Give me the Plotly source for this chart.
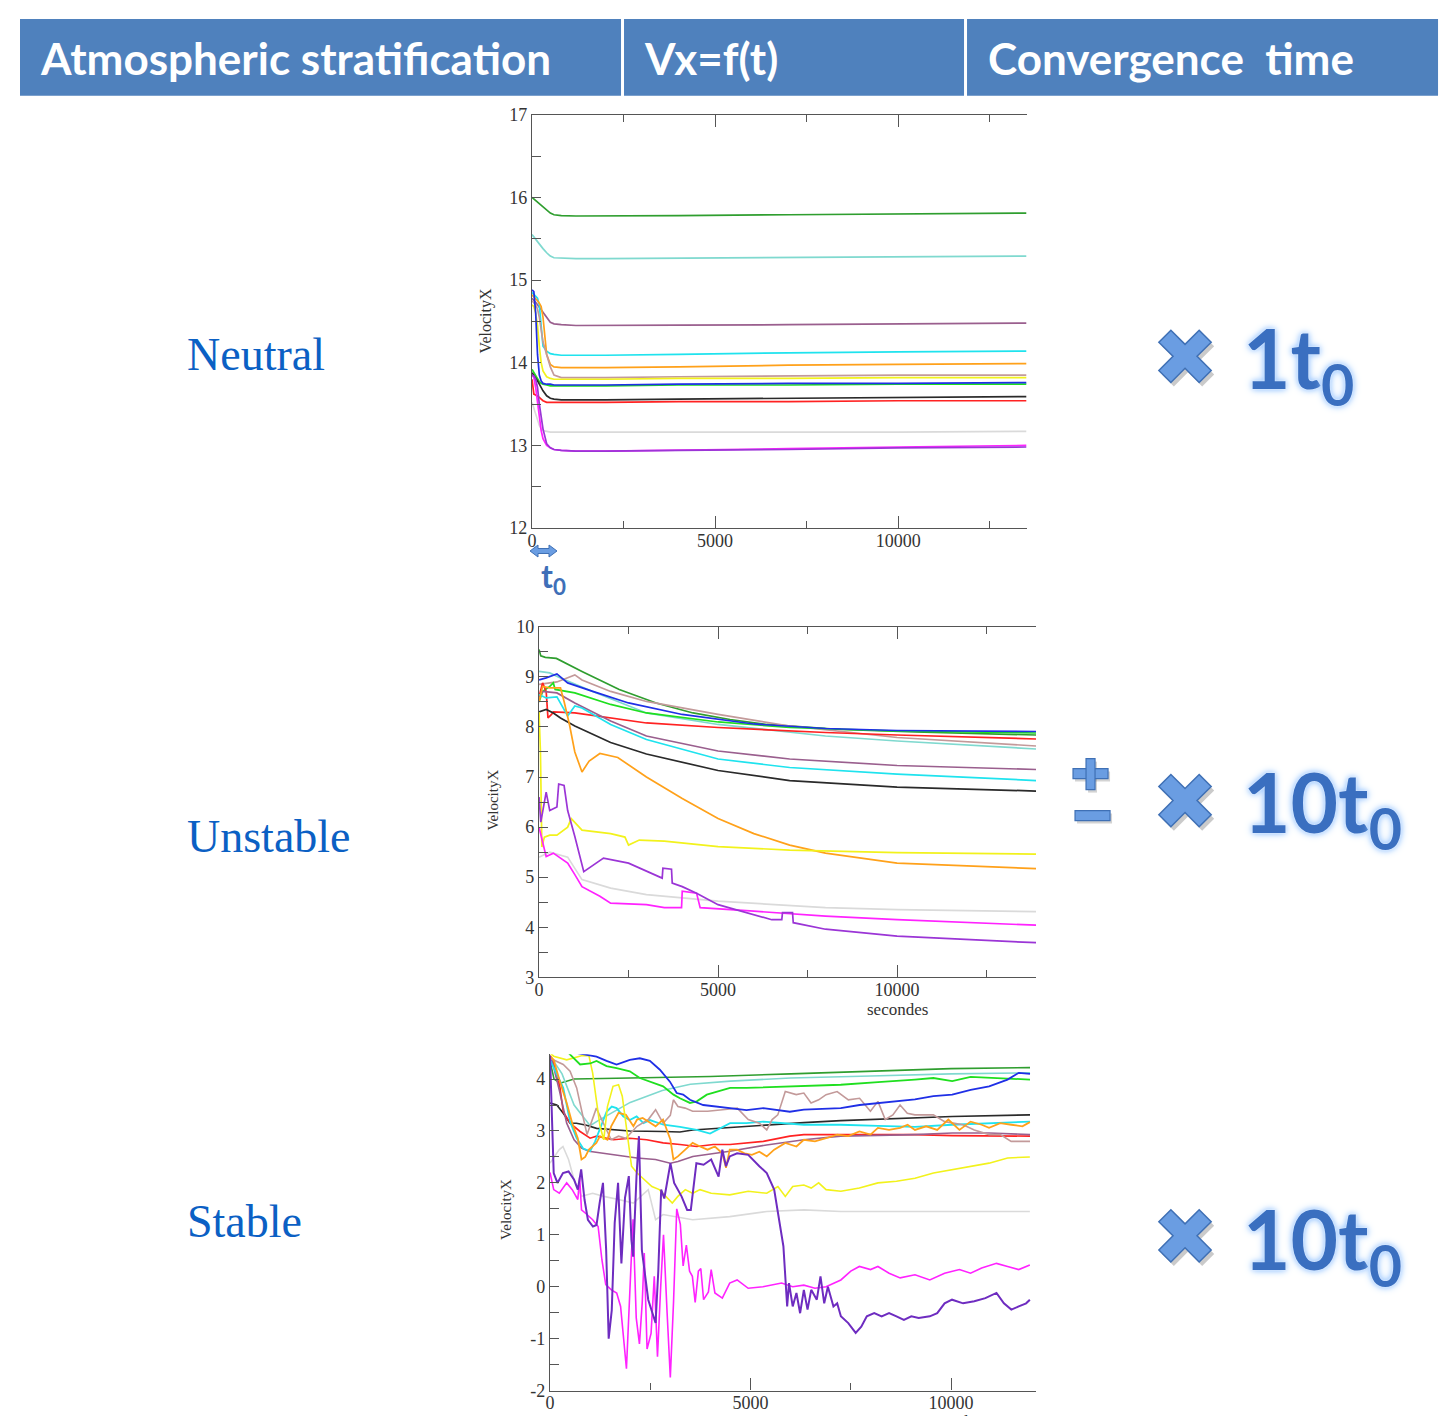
import math
import plotly.graph_objects as go

# ---------------- DATA ----------------
# Neutral stratification: shared time grid (s) and VelocityX values
NEU_T = [0, 50, 100, 150, 200, 250, 300, 400, 500, 600, 800, 1200, 2000, 4000, 7000, 10000, 13500]
NEU_GREEN4 = [16.0, 15.98, 15.96, 15.94, 15.92, 15.9, 15.88, 15.84, 15.81, 15.79, 15.78, 15.775, 15.775, 15.78, 15.79, 15.8, 15.81]
NEU_TURQ = [15.55, 15.52, 15.5, 15.47, 15.44, 15.41, 15.38, 15.33, 15.29, 15.27, 15.265, 15.26, 15.26, 15.265, 15.275, 15.285, 15.29]
NEU_MAROON = [14.78, 14.76, 14.73, 14.7, 14.67, 14.64, 14.6, 14.54, 14.49, 14.47, 14.46, 14.45, 14.45, 14.455, 14.46, 14.47, 14.48]
NEU_CYAN = [14.85, 14.83, 14.8, 14.78, 14.7, 14.4, 14.2, 14.14, 14.11, 14.1, 14.09, 14.09, 14.09, 14.1, 14.12, 14.13, 14.14]
NEU_ORANGE = [14.82, 14.8, 14.78, 14.75, 14.72, 14.68, 14.55, 14.1, 13.98, 13.95, 13.94, 13.94, 13.94, 13.95, 13.97, 13.98, 13.99]
NEU_BROWN = [14.75, 14.73, 14.7, 14.65, 14.55, 14.4, 14.25, 14.1, 13.95, 13.85, 13.82, 13.82, 13.82, 13.83, 13.84, 13.85, 13.85]
NEU_YELLOW = [14.7, 14.68, 14.6, 14.45, 14.2, 14.0, 13.9, 13.83, 13.81, 13.8, 13.8, 13.8, 13.8, 13.81, 13.81, 13.82, 13.82]
NEU_BLUE = [14.88, 14.86, 14.6, 14.1, 13.85, 13.78, 13.75, 13.74, 13.74, 13.73, 13.73, 13.73, 13.73, 13.74, 13.75, 13.75, 13.76]
NEU_GREEN = [13.92, 13.88, 13.84, 13.8, 13.77, 13.75, 13.74, 13.73, 13.72, 13.72, 13.72, 13.72, 13.72, 13.73, 13.73, 13.74, 13.74]
NEU_BLACK = [13.88, 13.85, 13.82, 13.78, 13.74, 13.7, 13.66, 13.6, 13.57, 13.56, 13.55, 13.55, 13.55, 13.56, 13.57, 13.58, 13.59]
NEU_RED = [13.8, 13.62, 13.61, 13.6, 13.58, 13.56, 13.54, 13.52, 13.52, 13.52, 13.52, 13.52, 13.52, 13.53, 13.53, 13.54, 13.54]
NEU_GREY = [13.52, 13.45, 13.38, 13.3, 13.24, 13.2, 13.18, 13.17, 13.16, 13.16, 13.16, 13.16, 13.16, 13.16, 13.16, 13.16, 13.17]
NEU_MAGENTA = [13.85, 13.82, 13.7, 13.5, 13.3, 13.18, 13.08, 13.0, 12.97, 12.95, 12.94, 12.93, 12.93, 12.94, 12.96, 12.98, 13.0]
NEU_VIOLET = [13.85, 13.84, 13.8, 13.7, 13.5, 13.35, 13.2, 13.02, 12.97, 12.95, 12.94, 12.93, 12.93, 12.94, 12.95, 12.97, 12.98]

# Unstable stratification: (time s, VelocityX) pairs per series
UNS_GREEN4 = [(0, 9.55), (50, 9.42), (175, 9.39), (485, 9.37), (1200, 9.11), (2240, 8.75), (3270, 8.48), (4300, 8.28), (5335, 8.15), (6370, 8.05), (8430, 7.95), (10500, 7.9), (13880, 7.84)]
UNS_BLUE = [(0, 8.94), (200, 8.98), (500, 9.06), (800, 8.88), (1500, 8.71), (2500, 8.48), (4000, 8.25), (6000, 8.06), (8000, 7.97), (10000, 7.93), (13880, 7.91)]
UNS_GREEN = [(0, 8.5), (100, 8.71), (300, 8.81), (400, 8.88), (450, 8.75), (1000, 8.68), (2000, 8.45), (3000, 8.28), (5000, 8.1), (7000, 7.99), (10000, 7.92), (13880, 7.88)]
UNS_BROWN = [(0, 8.85), (500, 8.9), (1000, 9.04), (1200, 8.94), (2000, 8.71), (3000, 8.51), (5000, 8.25), (7000, 8.02), (10000, 7.79), (13880, 7.62)]
UNS_RED = [(0, 8.6), (100, 8.88), (200, 8.71), (250, 8.18), (350, 8.25), (400, 8.3), (1000, 8.28), (2000, 8.18), (3000, 8.08), (5000, 7.99), (8000, 7.89), (10000, 7.84), (13880, 7.76)]
UNS_TURQ = [(0, 9.11), (300, 9.08), (600, 8.98), (1500, 8.71), (3000, 8.28), (5000, 8.05), (8000, 7.82), (10000, 7.72), (13880, 7.56)]
UNS_CYAN = [(0, 8.65), (200, 8.58), (500, 8.6), (800, 8.22), (1000, 8.42), (1200, 8.38), (2000, 8.05), (3000, 7.75), (5000, 7.36), (7000, 7.19), (10000, 7.06), (13880, 6.93)]
UNS_MAROON = [(0, 8.6), (100, 8.71), (500, 8.68), (1000, 8.48), (2000, 8.12), (3000, 7.82), (5000, 7.52), (7000, 7.36), (10000, 7.23), (13880, 7.15)]
UNS_BLACK = [(0, 8.3), (100, 8.32), (200, 8.35), (400, 8.28), (600, 8.18), (1000, 8.02), (2000, 7.69), (3000, 7.46), (5000, 7.13), (7000, 6.93), (10000, 6.8), (13880, 6.72)]
UNS_ORANGE = [(0, 8.5), (100, 8.81), (300, 8.78), (600, 8.78), (700, 8.51), (850, 8.05), (1000, 7.5), (1200, 7.1), (1400, 7.32), (1700, 7.47), (2200, 7.39), (3000, 7.0), (4000, 6.57), (5000, 6.17), (6000, 5.87), (7000, 5.64), (8000, 5.48), (10000, 5.28), (13880, 5.17)]
UNS_YELLOW = [(0, 8.3), (40, 7.5), (80, 5.6), (150, 5.8), (300, 5.84), (500, 5.84), (800, 6.0), (900, 6.17), (1200, 5.94), (2000, 5.87), (2400, 5.8), (2500, 5.64), (2800, 5.74), (3500, 5.72), (5000, 5.61), (7000, 5.54), (10000, 5.49), (13880, 5.46)]
UNS_VIOLET = [(0, 6.6), (50, 6.1), (200, 6.7), (300, 6.33), (500, 6.4), (550, 6.86), (700, 6.83), (800, 6.33), (1000, 5.81), (1250, 5.11), (1800, 5.38), (2500, 5.28), (3440, 4.98), (3460, 5.18), (3700, 5.16), (3720, 4.88), (4000, 4.81), (4400, 4.68), (5000, 4.45), (6500, 4.15), (6780, 4.15), (6800, 4.29), (7080, 4.29), (7100, 4.09), (8000, 3.96), (10000, 3.82), (13880, 3.69)]
UNS_MAGENTA = [(0, 6.0), (100, 5.67), (200, 5.41), (400, 5.48), (600, 5.38), (800, 5.28), (1000, 5.05), (1200, 4.81), (1700, 4.62), (2000, 4.48), (3000, 4.45), (3500, 4.39), (3980, 4.39), (4000, 4.72), (4400, 4.68), (4500, 4.39), (6000, 4.32), (8000, 4.22), (10000, 4.15), (13880, 4.04)]
UNS_GREY = [(0, 5.4), (300, 5.5), (800, 5.4), (1200, 4.95), (2000, 4.78), (3000, 4.65), (5000, 4.52), (8000, 4.39), (10000, 4.35), (13880, 4.31)]

# Stable stratification: (time s, VelocityX) pairs per series
ST_GREEN4 = [(0, 4.35), (100, 4.0), (250, 3.92), (600, 4.0), (2000, 4.02), (4000, 4.05), (6000, 4.1), (8000, 4.15), (10000, 4.2), (11970, 4.22)]
ST_TURQ = [(0, 4.45), (300, 4.1), (600, 3.5), (1000, 3.1), (1200, 3.2), (2000, 3.55), (2800, 3.78), (3500, 3.9), (4500, 3.96), (6000, 4.02), (8000, 4.06), (10000, 4.1), (11970, 4.12)]
ST_CYAN = [(0, 4.37), (330, 3.83), (500, 3.18), (665, 2.86), (830, 2.66), (1000, 2.61), (1120, 2.79), (1250, 3.05), (1410, 3.37), (1540, 3.47), (1660, 3.44), (1830, 3.28), (1990, 3.21), (2160, 3.28), (2330, 3.15), (2490, 3.21), (2830, 3.12), (3240, 3.08), (3660, 3.02), (3990, 2.95), (4490, 3.15), (4900, 3.15), (5320, 3.18), (6330, 3.12), (7250, 3.12), (8180, 3.1), (9100, 3.08), (10030, 3.12), (10950, 3.15), (11970, 3.18)]
ST_GREEN = [(0, 4.6), (400, 4.55), (750, 4.28), (1000, 4.3), (1160, 4.35), (1410, 4.25), (1660, 4.21), (1990, 4.15), (2240, 4.02), (2580, 3.92), (2820, 3.86), (3080, 3.7), (3240, 3.63), (3490, 3.54), (3660, 3.57), (3910, 3.7), (4160, 3.76), (4490, 3.83), (4900, 3.83), (5320, 3.84), (5980, 3.86), (6330, 3.86), (7250, 3.89), (8180, 3.94), (8640, 3.96), (9100, 3.99), (9560, 4.02), (10030, 3.96), (10490, 4.04), (10950, 4.02), (11410, 4.0), (11970, 3.99)]
ST_BLUE = [(0, 4.6), (900, 4.47), (1160, 4.43), (1410, 4.35), (1660, 4.28), (1990, 4.37), (2240, 4.4), (2490, 4.35), (2740, 4.18), (2990, 3.95), (3160, 3.73), (3320, 3.7), (3490, 3.6), (3820, 3.5), (4160, 3.47), (4490, 3.44), (4900, 3.4), (5320, 3.44), (5650, 3.4), (5980, 3.37), (6330, 3.41), (6790, 3.42), (7250, 3.44), (7720, 3.5), (8180, 3.54), (8640, 3.57), (9100, 3.61), (9560, 3.67), (10030, 3.7), (10490, 3.79), (10950, 3.86), (11410, 3.99), (11690, 4.12), (11970, 4.1)]
ST_BROWN = [(0, 4.4), (330, 4.28), (500, 4.15), (665, 3.83), (830, 3.25), (924, 2.93), (1155, 3.44), (1340, 3.15), (1525, 2.83), (1710, 2.9), (1890, 2.86), (2170, 3.09), (2450, 3.22), (2633, 3.41), (2820, 3.15), (3000, 3.3), (3077, 3.6), (3190, 3.47), (3370, 3.44), (3557, 3.38), (3930, 3.38), (4300, 3.41), (4670, 3.44), (4943, 3.22), (5220, 3.15), (5405, 3.02), (5540, 3.22), (5680, 3.31), (5867, 3.76), (6140, 3.7), (6330, 3.73), (6510, 3.54), (6700, 3.6), (6884, 3.7), (7160, 3.76), (7440, 3.6), (7720, 3.63), (7990, 3.38), (8177, 3.57), (8360, 3.22), (8550, 3.31), (8730, 3.5), (8910, 3.34), (9100, 3.31), (9280, 3.31), (9560, 3.31), (9840, 3.18), (10030, 3.15), (10300, 3.12), (10580, 3.02), (10950, 2.93), (11230, 2.93), (11500, 2.8), (11970, 2.8)]
ST_BLACK = [(0, 3.54), (170, 3.5), (330, 3.34), (500, 3.15), (660, 3.15), (910, 3.11), (1160, 3.05), (1580, 3.02), (1990, 3.0), (2820, 2.99), (3240, 2.98), (3560, 3.02), (4480, 3.07), (5400, 3.12), (6330, 3.16), (7250, 3.2), (9100, 3.25), (10030, 3.28), (11970, 3.31)]
ST_RED = [(0, 4.4), (90, 4.31), (250, 3.83), (330, 3.37), (500, 3.15), (750, 2.99), (1000, 2.86), (1160, 2.9), (1580, 2.83), (1990, 2.86), (2410, 2.83), (2820, 2.77), (3240, 2.74), (3660, 2.7), (4070, 2.74), (4490, 2.74), (5320, 2.8), (5980, 2.9), (6330, 2.93), (7250, 2.93), (8180, 2.94), (9100, 2.93), (10030, 2.91), (10950, 2.9), (11970, 2.9)]
ST_ORANGE = [(0, 4.45), (92, 4.37), (231, 3.99), (416, 3.54), (554, 3.15), (693, 2.86), (785, 2.45), (878, 2.5), (970, 2.64), (1155, 2.77), (1247, 2.9), (1432, 2.83), (1525, 3.09), (1709, 3.35), (1894, 3.31), (2079, 3.09), (2171, 3.22), (2310, 3.25), (2449, 3.18), (2633, 3.09), (2818, 3.22), (3003, 2.83), (3077, 2.45), (3188, 2.51), (3373, 2.64), (3557, 2.77), (3742, 2.7), (3927, 2.64), (4112, 2.7), (4297, 2.57), (4389, 2.29), (4481, 2.64), (4666, 2.64), (4851, 2.57), (5036, 2.54), (5220, 2.6), (5405, 2.51), (5590, 2.64), (5867, 2.77), (6145, 2.7), (6330, 2.83), (6607, 2.8), (6884, 2.86), (7161, 2.93), (7438, 2.9), (7715, 2.99), (7993, 2.93), (8177, 3.06), (8455, 3.02), (8732, 3.06), (8917, 3.12), (9101, 3.02), (9379, 3.09), (9656, 3.02), (9933, 3.22), (10210, 3.02), (10487, 3.18), (10765, 3.12), (10949, 3.06), (11227, 3.15), (11504, 3.12), (11781, 3.09), (11966, 3.17)]
ST_MAROON = [(0, 4.45), (46, 4.37), (231, 3.79), (416, 3.15), (600, 2.83), (785, 2.67), (970, 2.61), (1340, 2.57), (1710, 2.54), (2170, 2.48), (2630, 2.45), (3000, 2.38), (3190, 2.41), (3560, 2.51), (4480, 2.61), (5400, 2.73), (6330, 2.83), (7250, 2.9), (9100, 2.93), (10030, 2.96), (10950, 2.96), (11970, 2.93)]
ST_YELLOW = [(0, 4.5), (92, 4.44), (416, 4.37), (785, 4.45), (970, 4.45), (1063, 4.12), (1155, 3.6), (1247, 3.09), (1340, 2.83), (1432, 3.47), (1571, 3.86), (1709, 3.89), (1802, 3.67), (1894, 3.09), (2033, 2.32), (2171, 2.19), (2356, 2.06), (2541, 1.93), (2726, 1.87), (2911, 1.71), (3049, 1.61), (3188, 1.74), (3373, 1.87), (3557, 1.8), (3742, 1.87), (4019, 1.8), (4481, 1.77), (4943, 1.84), (5405, 1.8), (5683, 1.93), (5867, 1.74), (6052, 1.93), (6330, 1.96), (6514, 1.9), (6699, 2.0), (6884, 1.87), (7253, 1.84), (7715, 1.9), (8177, 2.0), (8640, 2.03), (9101, 2.09), (9563, 2.19), (10025, 2.25), (10487, 2.32), (10949, 2.38), (11411, 2.48), (11966, 2.5)]
ST_GREY = [(0, 2.38), (231, 2.64), (323, 2.7), (462, 2.45), (600, 2.06), (785, 1.74), (1063, 1.8), (1340, 1.74), (1710, 1.68), (2079, 1.61), (2449, 1.87), (2633, 1.29), (2818, 1.39), (3095, 1.35), (3557, 1.29), (4481, 1.35), (5405, 1.45), (6330, 1.48), (7253, 1.45), (9101, 1.45), (11966, 1.45)]
ST_MAGENTA = [(0, 2.2), (92, 1.87), (231, 1.8), (416, 2.0), (554, 1.87), (693, 1.68), (740, 2.1), (785, 1.48), (878, 1.42), (1063, 1.29), (1200, 1.16), (1294, 0.52), (1390, 0.04), (1530, -0.06), (1663, -0.12), (1760, -0.38), (1906, -1.58), (1990, -0.2), (2070, 1.3), (2150, -0.6), (2230, -1.1), (2300, -0.3), (2350, 0.65), (2420, -1.2), (2520, -0.9), (2600, 0.2), (2680, -1.35), (2760, 0.0), (2830, 1.0), (2920, -0.5), (3000, -1.75), (3080, -0.3), (3160, 1.5), (3250, 1.2), (3320, 0.4), (3400, 0.8), (3480, 0.3), (3550, 0.2), (3620, -0.3), (3700, 0.3), (3760, 0.35), (3830, -0.25), (3950, -0.1), (4019, 0.33), (4112, -0.12), (4297, -0.22), (4481, 0.07), (4666, 0.13), (4943, -0.03), (5310, 0.0), (5775, 0.07), (6052, 0.0), (6330, 0.03), (6607, -0.03), (6884, 0.0), (7253, 0.13), (7500, 0.3), (7715, 0.39), (7993, 0.33), (8177, 0.39), (8455, 0.26), (8732, 0.17), (9101, 0.23), (9471, 0.13), (9840, 0.26), (10210, 0.33), (10487, 0.26), (10765, 0.36), (11134, 0.45), (11411, 0.39), (11689, 0.33), (11966, 0.42)]
ST_INDIGO = [(0, 4.45), (60, 3.2), (92, 2.19), (185, 2.0), (323, 2.19), (462, 2.22), (600, 2.06), (693, 1.87), (777, 2.26), (860, 1.68), (945, 1.29), (1070, 1.16), (1160, 1.19), (1237, 1.61), (1321, 2.0), (1400, 0.71), (1463, -1.0), (1540, -0.45), (1613, 1.23), (1697, 2.0), (1780, 0.45), (1870, 1.71), (1965, 2.13), (2030, 0.9), (2073, 0.58), (2157, 2.13), (2218, 2.9), (2290, 0.71), (2370, 0.19), (2449, -0.25), (2633, -0.7), (2700, 0.3), (2772, 1.87), (2850, 1.7), (3003, 2.38), (3095, 2.0), (3280, 1.74), (3420, 1.48), (3511, 1.48), (3650, 2.38), (3830, 2.35), (4019, 2.45), (4204, 2.12), (4297, 2.64), (4389, 2.32), (4481, 2.51), (4666, 2.57), (4943, 2.54), (5220, 2.32), (5405, 2.19), (5590, 1.87), (5729, 1.16), (5820, 0.78), (5914, -0.38), (5960, 0.07), (6052, -0.38), (6145, -0.12), (6237, -0.51), (6330, -0.06), (6422, -0.44), (6514, -0.06), (6653, -0.25), (6745, 0.2), (6838, -0.32), (6930, 0.0), (7068, -0.38), (7161, -0.32), (7253, -0.57), (7438, -0.7), (7623, -0.89), (7762, -0.77), (7900, -0.57), (8085, -0.51), (8270, -0.57), (8455, -0.51), (8640, -0.57), (8825, -0.64), (9010, -0.57), (9194, -0.6), (9471, -0.57), (9656, -0.51), (9840, -0.32), (10025, -0.25), (10302, -0.32), (10580, -0.28), (10857, -0.22), (11134, -0.12), (11319, -0.32), (11504, -0.44), (11689, -0.38), (11873, -0.32), (11966, -0.25)]

ST_YTICKS = [-2, -1, 0, 1, 2, 3, 4]
ST_YTICKTEXT = ["-2", "-1", "0", "1", "2", "3", "4"]

HEADERS = ["Atmospheric stratification", "Vx=f(t)", "Convergence\u00a0 time"]
ROW_LABELS = ["Neutral", "Unstable", "Stable"]
TIME_LABELS = ["1t<sub>0</sub>", "10t<sub>0</sub>", "10t<sub>0</sub>"]

# ---------------- STYLE ----------------
C = {
    "green4": "#2f9e2f", "turq": "#7fd9cf", "maroon": "#9a5f8e", "cyan": "#1fe3ee",
    "orange": "#ffa11a", "brown": "#c39a9a", "yellow": "#f2f21c", "blue": "#1f2fe6",
    "green": "#1fdf1f", "black": "#2a2a2a", "red": "#ff2222", "grey": "#dadada",
    "magenta": "#ff22ff", "violet": "#9b35d6", "indigo": "#6e2cc0",
}

# page placement of the figure (measured): screen = offset + scale * figure
FW, FH = 1440, 1420
OXS, SXS = 12.0, 0.9965
OYS, SYS = 16.1, 0.9876


def px(x):
    return ((x - OXS) / SXS) / FW


def py(y):
    return 1 - ((y - OYS) / SYS) / FH


fig = go.Figure()

neu_series = [
    (NEU_GREY, "grey"), (NEU_GREEN4, "green4"), (NEU_TURQ, "turq"), (NEU_MAROON, "maroon"),
    (NEU_CYAN, "cyan"), (NEU_ORANGE, "orange"), (NEU_BROWN, "brown"), (NEU_YELLOW, "yellow"),
    (NEU_GREEN, "green"), (NEU_BLUE, "blue"), (NEU_BLACK, "black"), (NEU_RED, "red"),
    (NEU_MAGENTA, "magenta"), (NEU_VIOLET, "violet"),
]
for vals, col in neu_series:
    fig.add_trace(go.Scatter(x=NEU_T, y=vals, mode="lines", line=dict(color=C[col], width=1.7),
                             xaxis="x", yaxis="y", showlegend=False, name=col))

uns_series = [
    (UNS_GREY, "grey"), (UNS_GREEN4, "green4"), (UNS_TURQ, "turq"), (UNS_BROWN, "brown"),
    (UNS_GREEN, "green"), (UNS_BLUE, "blue"), (UNS_RED, "red"), (UNS_MAROON, "maroon"),
    (UNS_CYAN, "cyan"), (UNS_BLACK, "black"), (UNS_ORANGE, "orange"), (UNS_YELLOW, "yellow"),
    (UNS_MAGENTA, "magenta"), (UNS_VIOLET, "violet"),
]
for pts, col in uns_series:
    t, v = zip(*pts)
    fig.add_trace(go.Scatter(x=list(t), y=list(v), mode="lines", line=dict(color=C[col], width=1.7),
                             xaxis="x2", yaxis="y2", showlegend=False, name=col))

st_series = [
    (ST_GREY, "grey", 1.6), (ST_GREEN4, "green4", 1.6), (ST_TURQ, "turq", 1.6), (ST_BLACK, "black", 1.6),
    (ST_RED, "red", 1.6), (ST_MAROON, "maroon", 1.6), (ST_CYAN, "cyan", 1.8), (ST_BROWN, "brown", 1.6),
    (ST_ORANGE, "orange", 1.8), (ST_YELLOW, "yellow", 1.6), (ST_GREEN, "green", 1.8), (ST_BLUE, "blue", 1.8),
    (ST_MAGENTA, "magenta", 1.6), (ST_INDIGO, "indigo", 2.0),
]
for pts, col, lw in st_series:
    t, v = zip(*pts)
    fig.add_trace(go.Scatter(x=list(t), y=list(v), mode="lines", line=dict(color=C[col], width=lw),
                             xaxis="x3", yaxis="y3", showlegend=False, name=col))

AX = "#555555"
tickfont = dict(family="Liberation Serif", size=18, color="#333333")


def xax(domain, rng, anchor, mirror):
    return dict(domain=domain, range=rng, anchor=anchor, showline=True, linecolor=AX, linewidth=1.3,
                mirror=mirror, ticks="inside", ticklen=12, tickwidth=1.2, tickcolor=AX,
                tick0=0, dtick=5000, tickformat="d", exponentformat="none",
                tickfont=tickfont, showgrid=False, zeroline=False,
                minor=dict(dtick=2500, ticks="inside", ticklen=7, tickwidth=1.2, tickcolor=AX, showgrid=False))


def yax(domain, rng, anchor, **kw):
    d = dict(domain=domain, range=rng, anchor=anchor, showline=True, linecolor=AX, linewidth=1.3,
             mirror=False, ticks="inside", ticklen=9, tickwidth=1.2, tickcolor=AX,
             tick0=0, dtick=1, tickfont=tickfont, showgrid=False, zeroline=False,
             minor=dict(dtick=0.5, ticks="inside", ticklen=9, tickwidth=1.2, tickcolor=AX, showgrid=False))
    d.update(kw)
    return d


fig.update_layout(
    width=FW, height=FH, autosize=False,
    margin=dict(l=0, r=0, t=0, b=0),
    paper_bgcolor="white", plot_bgcolor="white",
    xaxis=xax([px(531), px(1026)], [0, 13520], "y", "ticks"),
    yaxis=yax([py(527), py(113)], [12, 17], "x"),
    xaxis2=xax([px(538), px(1035)], [0, 13880], "y2", "ticks"),
    yaxis2=yax([py(977), py(626)], [3, 10], "x2"),
    xaxis3=xax([px(549), px(1035)], [0, 12120], "y3", False),
    yaxis3=yax([py(1391), py(1054)], [-2, 4.48], "x3", tickmode="array",
               tickvals=ST_YTICKS, ticktext=ST_YTICKTEXT),
)

# pull the x tick labels a little closer to the axes, as in the reference
for name in ("xaxis", "xaxis2", "xaxis3"):
    try:
        fig.layout[name].ticklabelstandoff = -4
    except Exception:
        pass

shapes = []
# header cells
for x0, x1 in [(19, 620), (623, 963), (966, 1437)]:
    shapes.append(dict(type="rect", xref="paper", yref="paper", x0=px(x0), x1=px(x1),
                       y0=py(94), y1=py(17), fillcolor="#4f81bd", line=dict(width=0), layer="below"))


def poly_path(points):
    return "M" + " L".join(f"{px(x):.5f},{py(y):.5f}" for x, y in points) + " Z"


def cross_points(cx, cy, L=28.5, w=8.5):
    pts = [(-w, -L), (w, -L), (w, -w), (L, -w), (L, w), (w, w), (w, L), (-w, L), (-w, w), (-L, w), (-L, -w), (-w, -w)]
    c = s = math.sqrt(0.5)
    return [(cx + a * c - b * s, cy + a * s + b * c) for a, b in pts]


for cx, cy in [(1184, 355), (1184, 800), (1184, 1236)]:
    shapes.append(dict(type="path", xref="paper", yref="paper", path=poly_path(cross_points(cx + 3, cy + 4)),
                       fillcolor="rgba(80,80,80,0.30)", line=dict(width=0)))
    shapes.append(dict(type="path", xref="paper", yref="paper", path=poly_path(cross_points(cx, cy)),
                       fillcolor="#6a9de2", line=dict(color="#3f70b5", width=1.5)))

# plus / minus sign
pm_bars = [(1072, 1107, 768, 778), (1085, 1094, 758, 789), (1074, 1109, 810, 820)]
for (x0, x1, y0, y1) in pm_bars:
    shapes.append(dict(type="rect", xref="paper", yref="paper", x0=px(x0 + 2), x1=px(x1 + 2),
                       y0=py(y1 + 3), y1=py(y0 + 3), fillcolor="rgba(80,80,80,0.25)", line=dict(width=0)))
for (x0, x1, y0, y1) in pm_bars:
    shapes.append(dict(type="rect", xref="paper", yref="paper", x0=px(x0), x1=px(x1),
                       y0=py(y1), y1=py(y0), fillcolor="#6a9de2", line=dict(color="#3f70b5", width=1.2)))

# double arrow marking t0 under the neutral plot
arrow_pts = [(529, 550), (537, 544), (537, 547.5), (548, 547.5), (548, 544), (556, 550),
             (548, 556), (548, 552.5), (537, 552.5), (537, 556)]
shapes.append(dict(type="path", xref="paper", yref="paper", path=poly_path(arrow_pts),
                   fillcolor="#6a9de2", line=dict(color="#3f70b5", width=1)))

fig.update_layout(shapes=shapes)

ann = []
hfont = dict(family="Lato", size=44, color="white", weight="bold")
for txt, x in zip(HEADERS, [37, 641, 985]):
    ann.append(dict(text=txt, x=px(x), y=py(56), xref="paper", yref="paper", xanchor="left",
                    yanchor="middle", showarrow=False, font=hfont))

for txt, y in zip(ROW_LABELS, [353, 836, 1222]):
    ann.append(dict(text=txt, x=px(184), y=py(y), xref="paper", yref="paper", xanchor="left",
                    yanchor="middle", showarrow=False,
                    font=dict(family="Liberation Serif", size=46, color="#0b60c4")))

glow = "0px 0px 2px #ffffff, 0px 0px 5px #9cc8ff, 0px 0px 9px #9cc8ff"
for txt, y in zip(TIME_LABELS, [362, 806, 1244]):
    ann.append(dict(text=txt, x=px(1240), y=py(y), xref="paper", yref="paper", xanchor="left",
                    yanchor="middle", showarrow=False,
                    font=dict(family="Lato", size=82, color="#3a6fc0", weight="bold", shadow=glow)))

for (x, y, sz) in [(485, 320, 16), (492, 800, 15), (505, 1210, 15)]:
    ann.append(dict(text="VelocityX", x=px(x), y=py(y), xref="paper", yref="paper", textangle=-90,
                    xanchor="center", yanchor="middle", showarrow=False,
                    font=dict(family="Liberation Serif", size=sz, color="#333333")))

for (x, y) in [(896, 1009), (950, 1422)]:
    ann.append(dict(text="secondes", x=px(x), y=py(y), xref="paper", yref="paper", showarrow=False,
                    xanchor="center", yanchor="middle",
                    font=dict(family="Liberation Serif", size=17, color="#333333")))

ann.append(dict(text="t<sub>0</sub>", x=px(538), y=py(577), xref="paper", yref="paper", xanchor="left",
                yanchor="middle", showarrow=False,
                font=dict(family="Lato", size=32, color="#3f6fb8", weight="bold")))

fig.update_layout(annotations=ann)

fig.write_html("out.html")
